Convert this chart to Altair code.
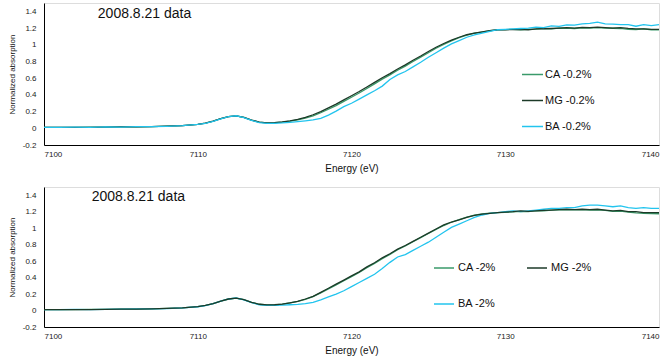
import altair as alt
import pandas as pd

energy = [7100, 7101, 7102, 7103, 7104, 7105, 7106, 7107, 7108, 7109,
          7110, 7110.5, 7111, 7111.5, 7112, 7112.5, 7113, 7113.5, 7114, 7114.5,
          7115, 7115.5, 7116, 7116.5, 7117, 7117.5, 7118, 7118.5, 7119, 7119.5,
          7120, 7120.5, 7121, 7121.5, 7122, 7122.5, 7123, 7123.5, 7124, 7124.5,
          7125, 7125.5, 7126, 7126.5, 7127, 7127.5, 7128, 7128.5, 7129, 7129.5,
          7130, 7130.5, 7131, 7131.5, 7132, 7132.5, 7133, 7133.5, 7134, 7134.5,
          7135, 7135.5, 7136, 7136.5, 7137, 7137.5, 7138, 7138.5, 7139, 7139.5,
          7140]

top_mg = [0.010, 0.010, 0.012, 0.012, 0.014, 0.016, 0.018, 0.021, 0.025, 0.033,
          0.048, 0.062, 0.085, 0.115, 0.140, 0.148, 0.130, 0.098, 0.074, 0.066,
          0.068, 0.076, 0.090, 0.108, 0.130, 0.162, 0.200, 0.245, 0.290, 0.340,
          0.390, 0.440, 0.495, 0.550, 0.605, 0.655, 0.710, 0.760, 0.815, 0.865,
          0.920, 0.970, 1.015, 1.055, 1.090, 1.120, 1.140, 1.155, 1.170, 1.180,
          1.180, 1.182, 1.185, 1.180, 1.190, 1.192, 1.195, 1.200, 1.205, 1.200,
          1.208, 1.205, 1.210, 1.205, 1.200, 1.205, 1.195, 1.190, 1.190, 1.185,
          1.185]
top_ca = [0.010, 0.011, 0.012, 0.013, 0.014, 0.016, 0.018, 0.021, 0.025, 0.033,
          0.048, 0.062, 0.085, 0.115, 0.140, 0.148, 0.130, 0.098, 0.074, 0.066,
          0.067, 0.074, 0.086, 0.102, 0.122, 0.150, 0.186, 0.228, 0.272, 0.322,
          0.372, 0.422, 0.477, 0.532, 0.588, 0.640, 0.695, 0.745, 0.800, 0.852,
          0.905, 0.958, 1.005, 1.047, 1.085, 1.115, 1.138, 1.152, 1.168, 1.178,
          1.182, 1.185, 1.178, 1.185, 1.188, 1.195, 1.190, 1.198, 1.200, 1.195,
          1.202, 1.200, 1.205, 1.200, 1.198, 1.195, 1.185, 1.182, 1.190, 1.180,
          1.178]
top_ba = [0.012, 0.011, 0.013, 0.012, 0.016, 0.015, 0.020, 0.020, 0.024, 0.032,
          0.046, 0.060, 0.083, 0.113, 0.140, 0.150, 0.128, 0.094, 0.068, 0.060,
          0.060, 0.064, 0.072, 0.080, 0.090, 0.100, 0.118, 0.158, 0.205, 0.260,
          0.300, 0.350, 0.400, 0.450, 0.505, 0.585, 0.640, 0.680, 0.735, 0.790,
          0.850, 0.905, 0.960, 1.010, 1.050, 1.090, 1.118, 1.140, 1.160, 1.180,
          1.185, 1.190, 1.195, 1.200, 1.210, 1.205, 1.225, 1.220, 1.238, 1.235,
          1.250, 1.255, 1.270, 1.250, 1.248, 1.240, 1.242, 1.222, 1.240, 1.230,
          1.240]

bot_mg = [0.010, 0.010, 0.012, 0.012, 0.014, 0.016, 0.018, 0.021, 0.025, 0.033,
          0.048, 0.062, 0.085, 0.115, 0.140, 0.150, 0.132, 0.100, 0.076, 0.068,
          0.070, 0.078, 0.094, 0.112, 0.140, 0.172, 0.220, 0.270, 0.320, 0.370,
          0.420, 0.470, 0.530, 0.580, 0.640, 0.690, 0.745, 0.790, 0.840, 0.890,
          0.940, 0.990, 1.040, 1.075, 1.100, 1.130, 1.155, 1.170, 1.180, 1.190,
          1.195, 1.200, 1.210, 1.205, 1.210, 1.215, 1.220, 1.225, 1.230, 1.225,
          1.230, 1.225, 1.230, 1.220, 1.210, 1.215, 1.200, 1.200, 1.190, 1.190,
          1.190]
bot_ca = [0.011, 0.010, 0.012, 0.013, 0.014, 0.016, 0.018, 0.021, 0.025, 0.033,
          0.048, 0.062, 0.085, 0.115, 0.140, 0.150, 0.132, 0.100, 0.076, 0.068,
          0.069, 0.077, 0.092, 0.110, 0.136, 0.168, 0.214, 0.262, 0.312, 0.362,
          0.412, 0.462, 0.520, 0.572, 0.630, 0.682, 0.738, 0.785, 0.835, 0.885,
          0.935, 0.985, 1.032, 1.072, 1.105, 1.135, 1.158, 1.172, 1.182, 1.188,
          1.192, 1.198, 1.205, 1.200, 1.212, 1.210, 1.218, 1.222, 1.225, 1.222,
          1.225, 1.220, 1.222, 1.215, 1.205, 1.208, 1.195, 1.185, 1.180, 1.178,
          1.175]
bot_ba = [0.012, 0.010, 0.013, 0.012, 0.015, 0.016, 0.019, 0.020, 0.024, 0.032,
          0.046, 0.060, 0.083, 0.113, 0.140, 0.152, 0.130, 0.096, 0.070, 0.062,
          0.062, 0.066, 0.070, 0.075, 0.085, 0.100, 0.130, 0.165, 0.200, 0.240,
          0.290, 0.340, 0.390, 0.440, 0.510, 0.585, 0.650, 0.680, 0.730, 0.780,
          0.830, 0.890, 0.950, 1.010, 1.050, 1.090, 1.130, 1.160, 1.180, 1.190,
          1.200, 1.210, 1.200, 1.210, 1.220, 1.230, 1.240, 1.240, 1.250, 1.250,
          1.270, 1.280, 1.280, 1.270, 1.260, 1.270, 1.250, 1.240, 1.250, 1.240,
          1.240]

top_labels = ["CA -0.2%", "MG -0.2%", "BA -0.2%"]
top_colors = ["#3a9a6a", "#1c3a28", "#22c4ee"]
# bottom legend is laid out column-major in two columns: CA, BA | MG
bot_labels = ["CA -2%", "BA -2%", "MG -2%"]
bot_colors = ["#3a9a6a", "#22c4ee", "#1c3a28"]
note_text = ["2008.8.21 data"]
note_x = [7103.5, 7103.1]
note_y = [1.365, 1.375]
x_ticks = [7100, 7110, 7120, 7130, 7140]
y_ticks = [-0.2, 0, 0.2, 0.4, 0.6, 0.8, 1.0, 1.2, 1.4]


def long_df(labels, cols):
    rows = []
    for lab, vals in zip(labels, cols):
        for e, v in zip(energy, vals):
            rows.append({"energy": e, "value": v, "series": lab})
    return pd.DataFrame(rows)


FONT = "Liberation Sans"
x_scale = alt.Scale(domain=[7100, 7140], nice=False)
y_scale = alt.Scale(domain=[-0.2, 1.5], nice=False, zero=False)

x_axis = alt.Axis(values=x_ticks, title="Energy (eV)", ticks=False,
                  labelFontSize=8, labelPadding=5, titleFontSize=10,
                  titleFontWeight="normal", titlePadding=5,
                  domainColor="#000", labelColor="#222",
                  titleColor="#111", grid=False, format="d",
                  labelOverlap=False)
y_axis = alt.Axis(values=y_ticks, title="Normalized absorption",
                  ticks=False, labelFontSize=8, labelPadding=8,
                  labelExpr="toString(round(datum.value*10)/10)",
                  labelOverlap=False,
                  titleFont=FONT, titleFontSize=8,
                  titleFontWeight="normal", titlePadding=6,
                  domainColor="#000", labelColor="#222",
                  titleColor="#111", grid=False)


def panel(labels, colors, cols, legend, nx, ny, h):
    df = long_df(labels, cols)
    lines = alt.Chart(df).mark_line(strokeWidth=1.3).encode(
        x=alt.X("energy:Q", scale=x_scale, axis=x_axis),
        y=alt.Y("value:Q", scale=y_scale, axis=y_axis),
        color=alt.Color("series:N",
                        scale=alt.Scale(domain=labels, range=colors),
                        sort=labels, legend=legend),
        order=alt.Order("energy:Q"),
    )
    note_df = pd.DataFrame({"energy": [nx], "value": [ny], "t": note_text})
    note = alt.Chart(note_df).mark_text(align="left", baseline="middle",
                                         fontSize=14, font=FONT, color="#111").encode(
        x=alt.X("energy:Q", scale=x_scale, axis=x_axis),
        y=alt.Y("value:Q", scale=y_scale, axis=y_axis),
        text="t:N")
    return alt.layer(lines, note).properties(width=615, height=h)


leg_top = alt.Legend(orient="none", legendX=477, legendY=60, title=None,
                     symbolType="stroke", symbolSize=441, symbolStrokeWidth=1.5,
                     labelFontSize=11, labelOffset=1, rowPadding=9, padding=0,
                     columns=1, labelColor="#111", labelFont=FONT)
leg_bot = alt.Legend(orient="none", legendX=389, legendY=70, title=None,
                     symbolType="stroke", symbolSize=400, symbolStrokeWidth=1.5,
                     labelFontSize=11, labelOffset=3, rowPadding=20, columnPadding=28,
                     padding=0, columns=2, labelColor="#111", labelFont=FONT)

top = panel(top_labels, top_colors, [top_ca, top_mg, top_ba],
            leg_top, note_x[0], note_y[0], 142)
bot = panel(bot_labels, bot_colors, [bot_ca, bot_ba, bot_mg], leg_bot,
            note_x[1], note_y[1], 140)

chart = alt.vconcat(top, bot, spacing=12).resolve_scale(color="independent").resolve_legend(
    color="independent").properties(
    padding={"left": 7, "top": 2, "right": 0, "bottom": 0},
    background="white",
).configure_view(stroke="#333", strokeWidth=1).configure(font=FONT)

chart.save("out.html", embed_options={"renderer": "svg", "actions": False})
